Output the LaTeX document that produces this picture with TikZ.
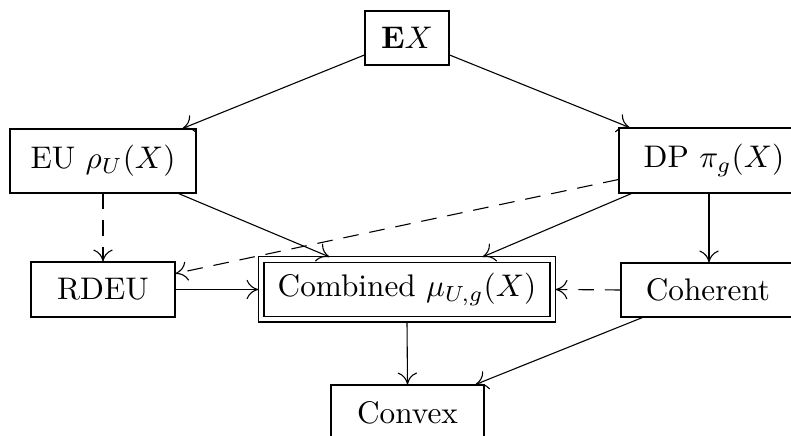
\documentclass[tikz,border=0pt]{standalone}
\usetikzlibrary{arrows.meta,calc}
\def\pxu{0.32pt}
\begin{document}
\begin{tikzpicture}[x=0.32pt,y=-0.32pt,
  box/.style={draw,rectangle,inner sep=0pt,line width=0.35pt},
  arr/.style={-{To[length=3.8pt,width=6.2pt]},line width=0.35pt},
  darr/.style={arr,dash pattern=on 5pt off 3.5pt}]
\useasboundingbox (0,0) rectangle (791,436);
\node[box,minimum width=84*\pxu,minimum height=54*\pxu] (EX) at (407,38) {$\mathbf{E}X$};
\node[box,minimum width=186*\pxu,minimum height=64*\pxu] (EU) at (103,161) {EU $\rho_U(X)$};
\node[box,minimum width=190*\pxu,minimum height=65*\pxu] (DP) at (714,160.5) {DP $\pi_g(X)$};
\node[box,minimum width=144*\pxu,minimum height=55*\pxu] (RD) at (103,289.5) {RDEU};
\node[box,minimum width=286*\pxu,minimum height=54*\pxu] (CB) at (407,289.5) {Combined $\mu_{U,g}(X)$};
\draw[line width=0.35pt] ($(CB.north west)+(-5,-5)$) rectangle ($(CB.south east)+(5,5)$);
\node[box,minimum width=174*\pxu,minimum height=54*\pxu] (CO) at (708,290) {Coherent};
\node[box,minimum width=153*\pxu,minimum height=55*\pxu] (CV) at (407.5,412.5) {Convex};
\draw[arr] ($(EX.west)+(0,17)$) -- ($(EU.north east)+(-14,0)$);
\draw[arr] ($(EX.east)+(0,17)$) -- ($(DP.north west)+(11,0)$);
\draw[arr] ($(EU.south east)+(-18,0)$) -- ($(CB.north west)+(66,-5)$);
\draw[arr] ($(DP.south west)+(13,0)$) -- ($(CB.north east)+(-68,-5)$);
\draw[darr] (EU.south -| RD.north) -- (RD.north);
\draw[darr] ($(DP.west)+(0,19)$) -- ($(RD.east)+(0,-16)$);
\draw[arr] ($(DP.south -| CO.north)+(1,0)$) -- ($(CO.north)+(1,0)$);
\draw[arr] (RD.east) -- ($(CB.west)+(-5,0)$);
\draw[darr] (CO.west) -- ($(CB.east)+(5,0)$);
\draw[arr] ($(CB.south)+(0,5)$) -- (CV.north);
\draw[arr] ($(CO.south west)+(22,0)$) -- ($(CV.north east)+(-9,0)$);
\end{tikzpicture}
\end{document}
